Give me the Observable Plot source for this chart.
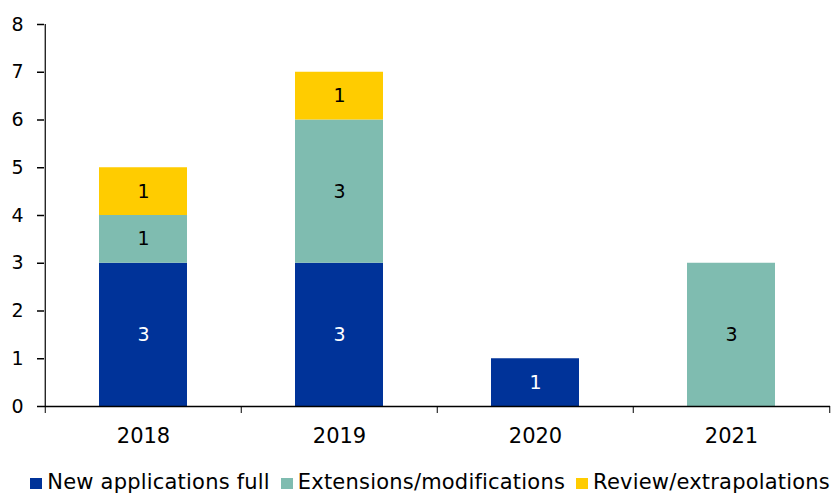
<!DOCTYPE html>
<html><head><meta charset="utf-8">
<script src="https://cdn.jsdelivr.net/npm/d3@7"></script>
<script src="https://cdn.jsdelivr.net/npm/@observablehq/plot@0.6"></script>
<style>
body{margin:0;background:#fff;font-family:"DejaVu Sans",Verdana,sans-serif;}
#legend{display:flex;justify-content:flex-end;gap:11px;font-size:21px;line-height:24px;letter-spacing:0.2px;color:#000;margin-right:2px;margin-top:10px;white-space:nowrap;}
#legend span.sw{display:inline-block;width:12px;height:11px;margin-right:5px;vertical-align:0px;}
</style></head><body>
<div id="chart"></div>
<div id="legend"></div>
<script>
const years = ["2018","2019","2020","2021"];
const seriesNames = ["New applications full","Extensions/modifications","Review/extrapolations"];
const colors = ["#003399","#7FBCB0","#FFCC00"];
const labelColors = ["#fff","#000","#000"];
const newApps = [3,3,1,0];
const extensions = [1,3,0,3];
const reviews = [1,1,0,0];
const yTicks = [0,1,2,3,4,5,6,7,8];

const seriesVals = [newApps, extensions, reviews];
const data = [];
seriesNames.forEach((s,i)=>years.forEach((y,j)=>{ if (seriesVals[i][j] > 0) data.push({year:y, series:s, value:seriesVals[i][j], lc:labelColors[i]}); }));

const W = 832, H = 460, ML = 44, MR = 2, TICK = 7;
const frameW = W - ML - MR;
const step = frameW / years.length;
const yMax = yTicks[yTicks.length - 1];

const chart = Plot.plot({
  width: W, height: H,
  marginLeft: ML, marginRight: MR, marginTop: 24, marginBottom: 54,
  style: {fontFamily: "DejaVu Sans, Verdana, sans-serif", fontSize: "19px", color: "#000", background: "#fff"},
  x: {domain: years, paddingInner: 0.55, paddingOuter: 0.275, label: null},
  y: {domain: [0, yMax], label: null},
  color: {domain: seriesNames, range: colors},
  marks: [
    Plot.barY(data, Plot.stackY({x: "year", y: "value", fill: "series", order: seriesNames})),
    Plot.text(data, Plot.stackY({x: "year", y: "value", z: "series", order: seriesNames, text: d => String(d.value), fill: d => d.lc, fontSize: 19})),
    Plot.axisY({ticks: yTicks, tickSize: 0, tickPadding: 21, fontSize: 19}),
    Plot.tickY(yTicks, {y: d => d, stroke: "#000", strokeWidth: 1.5, insetLeft: -TICK, insetRight: frameW}),
    Plot.axisX({tickSize: 0, tickPadding: 22, fontSize: 21}),
    Plot.ruleY([0], {stroke: "#000", strokeWidth: 1.3}),
    Plot.ruleX([years[0]], {x: d => d, dx: -step/2, y1: 0, y2: yMax, stroke: "#000", strokeWidth: 1.2}),
    Plot.ruleX(years, {x: d => d, dx: -step/2, y1: 0, y2: 0, stroke: "#000", insetBottom: -7}),
    Plot.ruleX([years[years.length-1]], {x: d => d, dx: step/2, y1: 0, y2: 0, stroke: "#000", insetBottom: -7})
  ]
});
document.getElementById("chart").append(chart);

const lg = document.getElementById("legend");
seriesNames.forEach((s,i)=>{
  const it = document.createElement("div");
  it.innerHTML = `<span class="sw" style="background:${colors[i]}"></span>${s}`;
  lg.append(it);
});
</script>
</body></html>
